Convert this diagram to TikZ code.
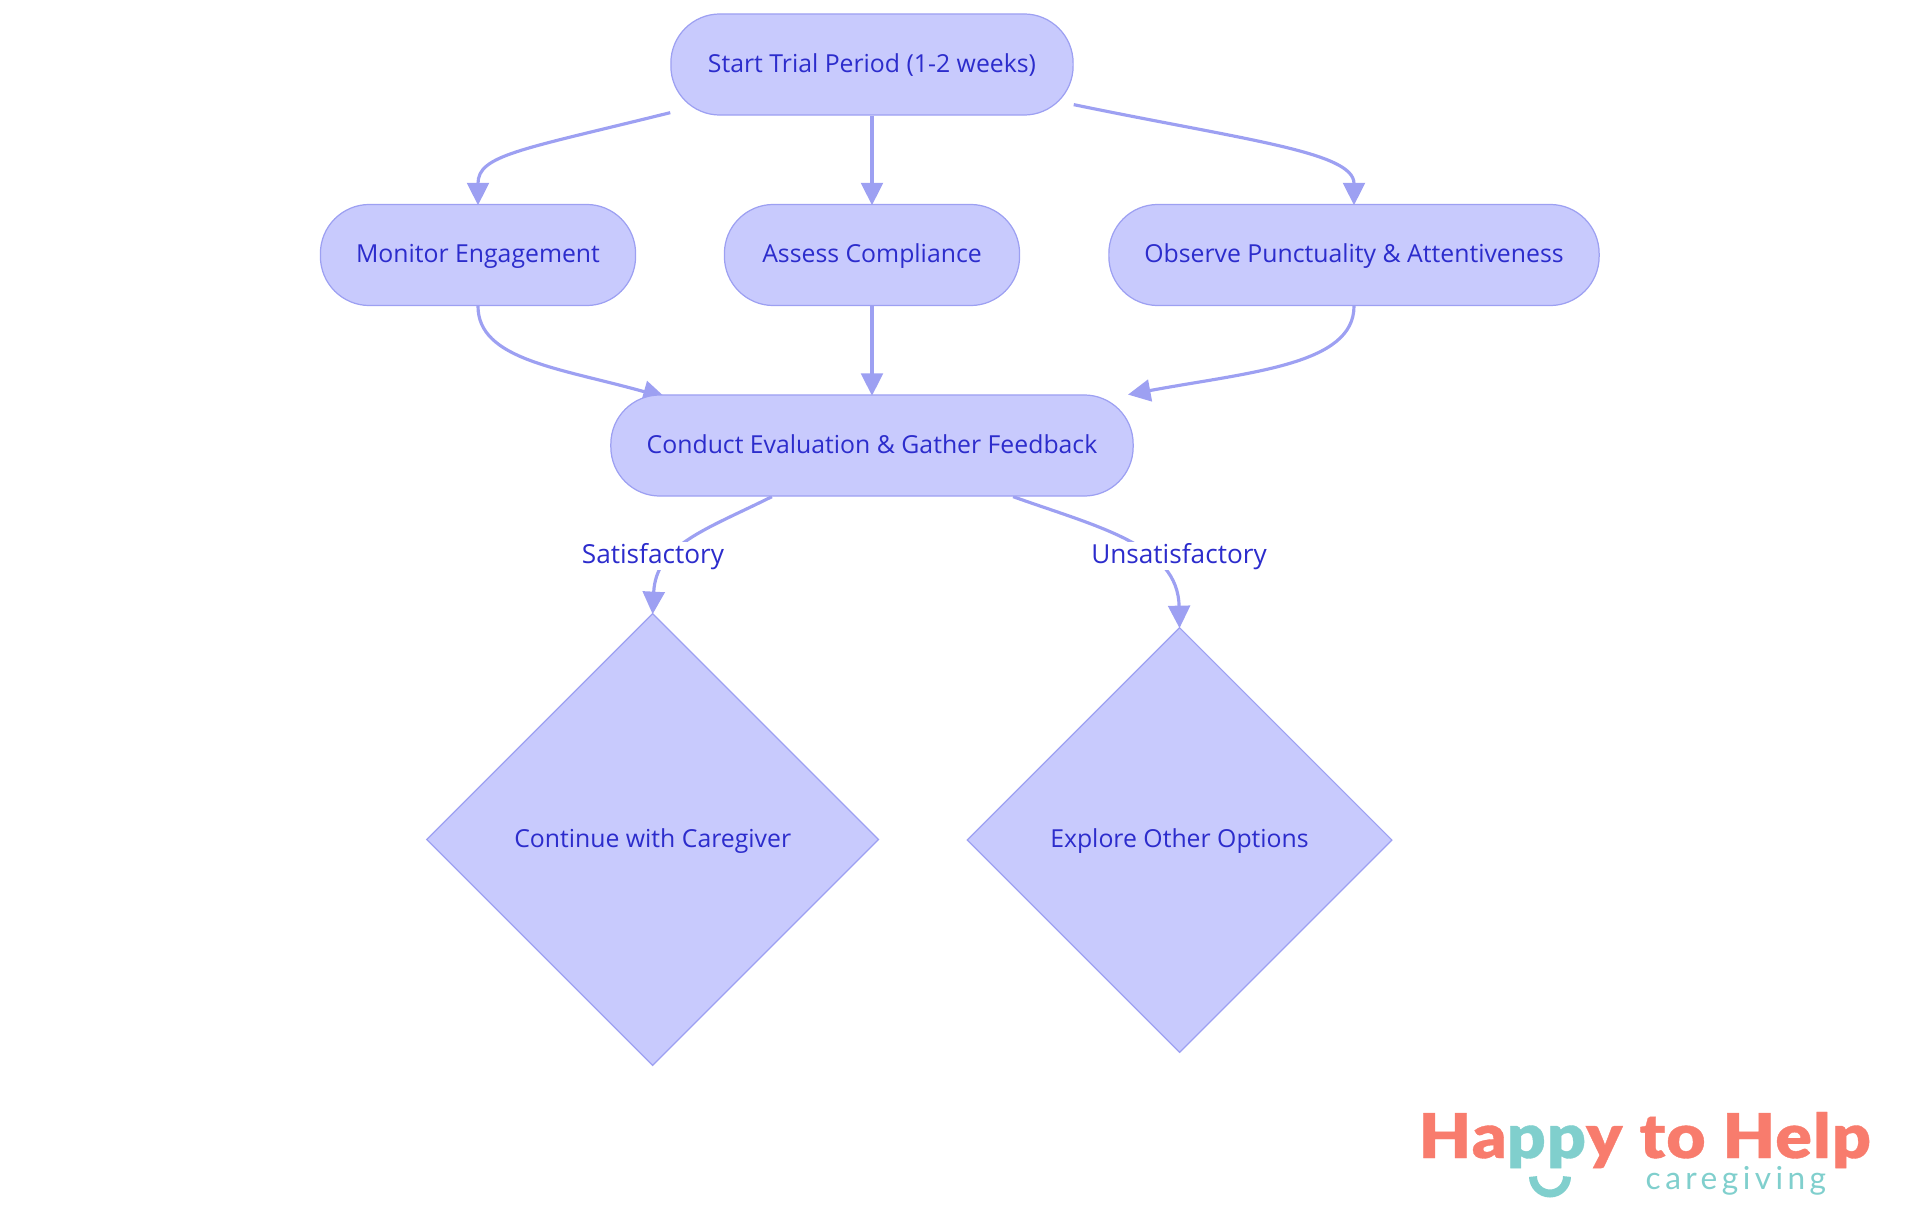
\documentclass[tikz,border=0pt]{standalone}
\usepackage{fontspec}
\usepackage{tikz}
\setmainfont{Open Sans}
\newfontfamily\logofont[FakeStretch=1.1,LetterSpace=2.1,FakeBold=.6]{Lato Black}
\newfontfamily\taglinefont[LetterSpace=14]{Lato}
\usetikzlibrary{arrows.meta,shapes.geometric,backgrounds}
\definecolor{nodefill}{HTML}{C8CAFD}
\definecolor{nodeline}{HTML}{9DA0F2}
\definecolor{nodetext}{HTML}{2C2CCC}
\definecolor{logocoral}{HTML}{F87C6D}
\definecolor{logoteal}{HTML}{80CFCD}
\tikzset{
  boxtext/.style={text=nodetext,font=\fontsize{7.05}{8.5}\selectfont,text height=.2cm,text depth=.05cm,inner sep=0pt},
  pill/.style={boxtext,draw=nodeline,fill=nodefill,line width=.35pt,rounded corners=.49cm,minimum height=1.01cm},
  choice/.style={boxtext,diamond,aspect=1,draw=nodeline,fill=nodefill,line width=.35pt},
  edgelabel/.style={boxtext,font=\fontsize{7.45}{9}\selectfont,fill=white,minimum height=.285cm},
  flow/.style={draw=nodeline,line width=.9pt,shorten >=-.4pt,-{Triangle[length=6.4pt,width=6.2pt]}},
}

\begin{document}
\begin{tikzpicture}[x=.01cm,y=-.01cm]
    \useasboundingbox (0,0) rectangle (1920,1215);
    \node[pill,minimum width=4.02cm] (start)   at (872,64.5)  {Start Trial Period (1-2 weeks)};
    \node[pill,minimum width=3.15cm] (monitor) at (478,255)   {Monitor Engagement};
    \node[pill,minimum width=2.95cm] (assess)  at (872,255)   {Assess Compliance};
    \node[pill,minimum width=4.90cm] (observe) at (1354,255)  {Observe Punctuality \& Attentiveness};
    \node[pill,minimum width=5.22cm] (conduct) at (872,445.5) {Conduct Evaluation \& Gather Feedback};
    \node[choice,minimum width=4.52cm,minimum height=4.52cm] (cont)    at (652.7,839.5) {Continue with Caregiver};
    \node[choice,minimum width=4.25cm,minimum height=4.25cm] (explore) at (1179.5,840)  {Explore Other Options};
    % edges go under the boxes
    \begin{scope}[on background layer]
    \draw[flow] ([yshift=.03cm]start.south west) .. controls (520,150) and (478,155) .. (monitor.north);
    \draw[flow] (start.south) -- (assess.north);
    \draw[flow] ([yshift=.11cm]start.south east) .. controls (1245,140) and (1354,152) .. (observe.north);
    \draw[flow] (monitor.south) .. controls (478,360) and (560,368) .. ([xshift=.54cm,yshift=-.03cm]conduct.north west);
    \draw[flow] (assess.south) -- (conduct.north);
    \draw[flow] (observe.south) .. controls (1354,365) and (1250,372) .. ([xshift=-.044cm]conduct.north east);
    \draw[flow] ([xshift=-1cm]conduct.south) .. controls (705,530) and (656,545) .. (cont.north);
    \draw[flow] ([xshift=1.41cm]conduct.south) .. controls (1098,527) and (1178,545) .. (explore.north);
    \end{scope}
    \node[edgelabel] (satisfied)   at (653,556)  {Satisfactory};
    \node[edgelabel] (unsatisfied) at (1179,556) {Unsatisfactory};
    % logo
    \node[anchor=base west,inner sep=0pt,font=\logofont\fontsize{17.5}{20}\selectfont,text=logocoral] (logo) at (1418,1158)
      {Ha\textcolor{logoteal}{pp}y to Help};
    \node[anchor=base west,inner sep=0pt,font=\taglinefont\fontsize{9}{10}\selectfont,text=logoteal] (tagline) at (1645,1189) {caregiving};
    \draw[logoteal,line width=.08cm] (1533,1176.5) arc[start angle=180,end angle=0,radius=17];
  \end{tikzpicture}
\end{document}
